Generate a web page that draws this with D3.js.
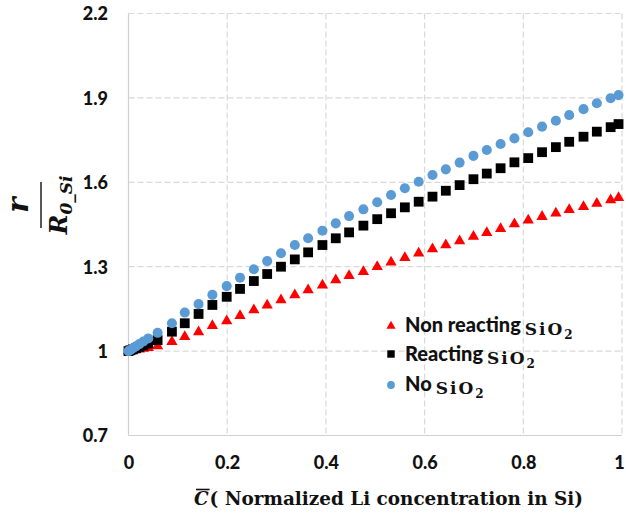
<!DOCTYPE html>
<html>
<head>
<meta charset="utf-8">
<script src="https://cdn.jsdelivr.net/npm/d3@7"></script>
<style>
  html, body { margin: 0; padding: 0; background: #fff; }
  svg { display: block; }
</style>
</head>
<body>
<svg id="chart" width="626" height="514"></svg>
<script>
// Normalized Li concentration (x) shared by all three series
const conc = [0, 0.004, 0.009, 0.015, 0.022, 0.030, 0.040,
  0.059, 0.088, 0.114, 0.142, 0.170, 0.199, 0.226, 0.254, 0.281, 0.309,
  0.337, 0.364, 0.393, 0.420, 0.447, 0.476, 0.504, 0.532, 0.560, 0.588,
  0.616, 0.643, 0.671, 0.699, 0.726, 0.754, 0.782, 0.810, 0.838, 0.866,
  0.893, 0.922, 0.949, 0.977, 0.993];

// r / R0_Si for each case
const nonReacting = [1, 1.001, 1.003, 1.005, 1.007, 1.009, 1.012,
  1.018, 1.033, 1.051, 1.068, 1.090, 1.107, 1.126, 1.146, 1.163, 1.182,
  1.199, 1.217, 1.234, 1.253, 1.268, 1.282, 1.300, 1.316, 1.332, 1.348,
  1.363, 1.377, 1.391, 1.407, 1.421, 1.435, 1.452, 1.465, 1.478, 1.490,
  1.502, 1.513, 1.525, 1.537, 1.545];

const reacting = [1, 1.003, 1.006, 1.010, 1.015, 1.020, 1.027,
  1.039, 1.069, 1.099, 1.132, 1.164, 1.193, 1.221, 1.249, 1.274, 1.300,
  1.326, 1.351, 1.377, 1.401, 1.422, 1.446, 1.469, 1.490, 1.511, 1.531,
  1.549, 1.570, 1.590, 1.611, 1.631, 1.650, 1.671, 1.686, 1.707, 1.725,
  1.744, 1.762, 1.780, 1.796, 1.807];

const noSiO2 = [1, 1.004, 1.010, 1.017, 1.025, 1.034, 1.045,
  1.065, 1.099, 1.137, 1.167, 1.200, 1.231, 1.261, 1.291, 1.320, 1.348,
  1.377, 1.401, 1.428, 1.454, 1.480, 1.504, 1.529, 1.555, 1.579, 1.602,
  1.626, 1.646, 1.670, 1.694, 1.715, 1.736, 1.756, 1.778, 1.798, 1.819,
  1.839, 1.860, 1.881, 1.899, 1.910];

const xTicks = [0, 0.2, 0.4, 0.6, 0.8, 1];
const xTickLabels = ["0", "0.2", "0.4", "0.6", "0.8", "1"];
const yTicks = [0.7, 1, 1.3, 1.6, 1.9, 2.2];
const yTickLabels = ["0.7", "1", "1.3", "1.6", "1.9", "2.2"];

const legendNames = ["Non reacting ", "Reacting ", "No "];

const svg = d3.select("#chart");
const plotLeft = 128.5, plotRight = 622, plotTop = 13.5, plotBottom = 435.5;

const x = d3.scaleLinear().domain([0, 1]).range([plotLeft, plotRight]);
const y = d3.scaleLinear().domain([0.7, 2.2]).range([plotBottom, plotTop]);

const gridColor = "#d9d9d9";
const tickFont = "Lato, 'Open Sans', sans-serif";
const serif = "'DejaVu Serif', 'Liberation Serif', serif";

// dashed gridlines
svg.append("g").selectAll("line")
  .data(yTicks.filter(v => v > 0.7))
  .join("line")
  .attr("x1", plotLeft).attr("x2", plotRight)
  .attr("y1", d => y(d)).attr("y2", d => y(d))
  .attr("stroke", gridColor).attr("stroke-width", 1.2)
  .attr("stroke-dasharray", "6,3");

svg.append("g").selectAll("line")
  .data(xTicks.filter(v => v > 0))
  .join("line")
  .attr("x1", d => x(d)).attr("x2", d => x(d))
  .attr("y1", plotTop).attr("y2", plotBottom)
  .attr("stroke", gridColor).attr("stroke-width", 1.2)
  .attr("stroke-dasharray", "6,3");

// solid axis lines
svg.append("line").attr("x1", plotLeft).attr("x2", plotLeft).attr("y1", plotTop).attr("y2", plotBottom)
  .attr("stroke", "#d0d0d0").attr("stroke-width", 1.2);
svg.append("line").attr("x1", plotLeft).attr("x2", plotRight).attr("y1", plotBottom).attr("y2", plotBottom)
  .attr("stroke", "#d0d0d0").attr("stroke-width", 1.2);

// tick labels via d3 axes
const yAxis = d3.axisLeft(y).tickValues(yTicks).tickSize(0).tickPadding(0)
  .tickFormat((d, i) => yTickLabels[i]);
const yg = svg.append("g").attr("transform", "translate(108,0)").call(yAxis);
yg.select(".domain").remove();
yg.selectAll("text").attr("font-family", tickFont).attr("font-weight", "900")
  .attr("font-size", 18).attr("fill", "#111").attr("dy", "0.35em");

const xAxis = d3.axisBottom(x).tickValues(xTicks).tickSize(0).tickPadding(0)
  .tickFormat((d, i) => xTickLabels[i]);
const xg = svg.append("g").attr("transform", "translate(0,456)").call(xAxis);
xg.select(".domain").remove();
xg.selectAll("text").attr("font-family", tickFont).attr("font-weight", "900")
  .attr("font-size", 18).attr("fill", "#111").attr("dy", "0.71em")
  .attr("dx", d => (d === 1 ? -3 : 0));

// markers
const series = [
  { data: nonReacting, shape: d3.symbolTriangle, size: 55, color: "#ff0000" },
  { data: reacting, shape: d3.symbolSquare, size: 96, color: "#000000" },
  { data: noSiO2, shape: d3.symbolCircle, size: 80, color: "#5b9bd5" }
];

series.forEach(s => {
  svg.append("g").selectAll("path")
    .data(conc.map((c, i) => [c, s.data[i]]))
    .join("path")
    .attr("transform", d => `translate(${x(d[0])},${y(d[1])})`)
    .attr("d", d3.symbol().type(s.shape).size(s.size))
    .attr("fill", s.color);
});

// legend
const legend = svg.append("g");
const legendRows = [
  { ty: 332, my: 326, shape: d3.symbolTriangle, size: 36, color: "#ff0000" },
  { ty: 360.5, my: 354, shape: d3.symbolSquare, size: 55, color: "#000000" },
  { ty: 390.5, my: 385, shape: d3.symbolCircle, size: 48, color: "#5b9bd5" }
];
legendRows.forEach((r, i) => {
  legend.append("path")
    .attr("transform", `translate(391,${r.my})`)
    .attr("d", d3.symbol().type(r.shape).size(r.size))
    .attr("fill", r.color);
  const t = legend.append("text")
    .attr("x", 405).attr("y", r.ty)
    .attr("font-family", tickFont).attr("font-weight", "900")
    .attr("font-size", 20).attr("fill", "#111")
    .text(legendNames[i]);
  const w = t.node().getComputedTextLength();
  const f = legend.append("text")
    .attr("x", 405 + w + 4).attr("y", r.ty + 3)
    .attr("font-family", serif).attr("font-weight", "bold")
    .attr("font-size", 17).attr("fill", "#111").attr("letter-spacing", 2);
  f.append("tspan").text("SiO");
  f.append("tspan").attr("dy", 4).attr("font-size", 12).text("2");
});

// y-axis title: r / R_0_Si as a fraction
const yt = svg.append("g").attr("transform", "translate(41,205) rotate(-90)");
yt.append("text").attr("x", 0).attr("y", -13)
  .attr("text-anchor", "middle")
  .attr("font-family", serif).attr("font-style", "italic").attr("font-weight", "bold")
  .attr("font-size", 29).attr("fill", "#111").text("r");
yt.append("line").attr("x1", -23).attr("x2", 23).attr("y1", 0).attr("y2", 0)
  .attr("stroke", "#111").attr("stroke-width", 1.4);
const den = yt.append("text").attr("x", 0).attr("y", 26)
  .attr("text-anchor", "middle")
  .attr("font-family", serif).attr("font-style", "italic").attr("font-weight", "bold")
  .attr("font-size", 24).attr("fill", "#111");
den.append("tspan").text("R");
den.append("tspan").attr("dy", 5).attr("font-size", 17).text("0_Si");

// x-axis title: C-bar ( Normalized Li concentration in Si)
const xt = svg.append("g");
const cText = xt.append("text").attr("y", 505)
  .attr("font-family", serif).attr("font-style", "italic").attr("font-weight", "bold")
  .attr("font-size", 18.4).attr("fill", "#111").text("C");
const rest = xt.append("text").attr("y", 505)
  .attr("font-family", serif).attr("font-weight", "bold")
  .attr("font-size", 18.4).attr("fill", "#111").text("( Normalized Li concentration in Si)");
const cw = cText.node().getComputedTextLength();
const rw = rest.node().getComputedTextLength();
const startX = 388.5 - (cw + rw + 1) / 2;
cText.attr("x", startX);
rest.attr("x", startX + cw + 1);
xt.append("line").attr("x1", startX + 2).attr("x2", startX + cw + 1)
  .attr("y1", 489.5).attr("y2", 489.5).attr("stroke", "#111").attr("stroke-width", 1.6);
</script>
</body>
</html>
